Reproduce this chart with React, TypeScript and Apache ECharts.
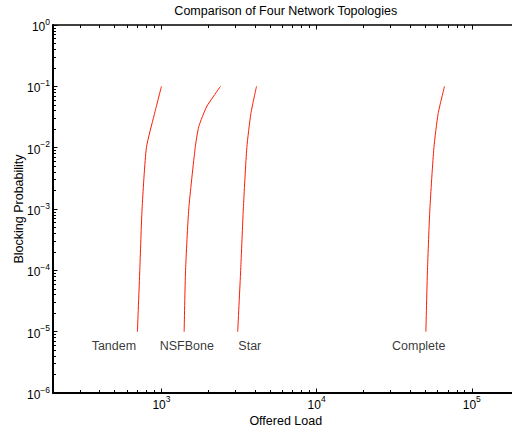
import React, { useEffect, useRef } from "react";
import * as echarts from "echarts";

const chartTitle = "Comparison of Four Network Topologies";
const xName = "Offered Load";
const yName = "Blocking Probability";

const topologies = ["Tandem", "NSFBone", "Star", "Complete"];

const tandemLoad = [700, 725, 750, 800, 900, 1000];
const tandemBlocking = [1e-5, 1e-4, 1e-3, 1e-2, 0.035, 0.1];

const nsfLoad = [1400, 1430, 1500, 1650, 1740, 1950, 2150, 2400];
const nsfBlocking = [1e-5, 1e-4, 1e-3, 1e-2, 0.022, 0.046, 0.067, 0.1];

const starLoad = [3100, 3240, 3370, 3550, 3770, 4100];
const starBlocking = [1e-5, 1e-4, 1e-3, 1e-2, 0.036, 0.1];

const completeLoad = [50600, 51800, 53700, 57000, 60700, 66700];
const completeBlocking = [1e-5, 1e-4, 1e-3, 1e-2, 0.036, 0.1];

const labelLoad = [355, 975, 3130, 30600];
const labelBlocking = [5.8e-6, 5.8e-6, 5.8e-6, 5.8e-6];

const xMin = 200;
const xMax = 200000;
const yMin = 1e-6;
const yMax = 1;

const mantissas = [2, 3, 4, 5, 6, 7, 8, 9];
const xDecades = [100, 1000, 10000, 100000];
const yDecades = [1e-6, 1e-5, 1e-4, 1e-3, 1e-2, 1e-1];

const FONT = "Liberation Sans";

function minorTicks(decades: number[], lo: number, hi: number) {
  const out: number[] = [];
  decades.forEach((d) => mantissas.forEach((m) => {
    const v = d * m;
    if (v > lo * 1.0001 && v < hi * 0.9999) out.push(v);
  }));
  return out;
}

function powLabel(v: number) {
  const e = Math.round(Math.log10(v));
  if (Math.abs(Math.log10(v) - e) > 1e-6) return "";
  const es = e < 0 ? "\u2212" + Math.abs(e) : String(e);
  return "{b|10}{s|" + es + "}";
}

const rich = {
  b: { fontSize: 12, lineHeight: 12, padding: [4, 0, 0, 0], fontFamily: FONT, color: "#000" },
  s: { fontSize: 8.5, lineHeight: 9, padding: [0, 0, 7, 0], fontFamily: FONT, color: "#000" },
};

export default function App() {
  const ref = useRef<HTMLDivElement>(null);
  useEffect(() => {
    if (!ref.current) return;
    const chart = echarts.init(ref.current, undefined, { renderer: "svg" });
    const black = "#000";
    const lineSeries = [
      [tandemLoad, tandemBlocking],
      [nsfLoad, nsfBlocking],
      [starLoad, starBlocking],
      [completeLoad, completeBlocking],
    ].map(([xs, ys], i) => ({
      type: "line",
      name: topologies[i],
      xAxisIndex: 0,
      yAxisIndex: 0,
      showSymbol: false,
      symbol: "none",
      smooth: 0.2,
      lineStyle: { color: "#ff1a00", width: 1 },
      data: xs.map((x, j) => [x, ys[j]]),
      z: 3,
    }));
    const xCommon = {
      type: "log",
      logBase: 10,
      min: xMin,
      max: xMax,
      splitLine: { show: false },
      gridIndex: 0,
    };
    const yCommon = {
      type: "log",
      logBase: 10,
      min: yMin,
      max: yMax,
      splitLine: { show: false },
      gridIndex: 0,
    };
    const xMinor = minorTicks(xDecades, xMin, xMax);
    const yMinor = minorTicks(yDecades, yMin, yMax);
    chart.setOption({
      animation: false,
      backgroundColor: "#fff",
      grid: { left: 53, top: 25, bottom: 39, right: -6.5, containLabel: false, outerBoundsMode: "none" },
      xAxis: [
        {
          ...xCommon,
          position: "bottom",
          axisLine: { onZero: false, lineStyle: { color: black, width: 2 } },
          axisTick: { inside: true, length: 4.5, lineStyle: { color: black, width: 1 } },
          axisLabel: { formatter: powLabel, rich, margin: 3.5, showMinLabel: true, showMaxLabel: true },
          name: xName,
          nameLocation: "middle",
          nameGap: 21,
          nameMoveOverlap: false,
          nameTextStyle: { fontSize: 12.5, fontFamily: FONT, color: black },
        },
        {
          ...xCommon,
          position: "bottom",
          axisLine: { show: false, onZero: false },
          axisTick: { inside: true, length: 3, customValues: xMinor, lineStyle: { color: black, width: 1 } },
          axisLabel: { show: false },
        },
        {
          ...xCommon,
          position: "top",
          axisLine: { onZero: false, lineStyle: { color: black, width: 1.5 } },
          axisTick: { inside: true, length: 4.5, lineStyle: { color: black, width: 1 } },
          axisLabel: { show: false },
          name: chartTitle,
          nameLocation: "middle",
          nameGap: 8,
          nameMoveOverlap: false,
          nameTextStyle: { fontSize: 12.5, fontFamily: FONT, color: black },
        },
        {
          ...xCommon,
          position: "top",
          axisLine: { show: false, onZero: false },
          axisTick: { inside: true, length: 3, customValues: xMinor, lineStyle: { color: black, width: 1 } },
          axisLabel: { show: false },
        },
      ],
      yAxis: [
        {
          ...yCommon,
          position: "left",
          axisLine: { onZero: false, lineStyle: { color: black, width: 2 } },
          axisTick: { inside: true, length: 4.5, lineStyle: { color: black, width: 1 } },
          axisLabel: { formatter: powLabel, rich, margin: 3, showMinLabel: true, showMaxLabel: true },
          name: yName,
          nameLocation: "middle",
          nameGap: 28,
          nameRotate: 90,
          nameMoveOverlap: false,
          nameTextStyle: { fontSize: 12.5, fontFamily: FONT, color: black },
        },
        {
          ...yCommon,
          position: "left",
          axisLine: { show: false, onZero: false },
          axisTick: { inside: true, length: 3, customValues: yMinor, lineStyle: { color: black, width: 1 } },
          axisLabel: { show: false },
        },
      ],
      series: [
        ...lineSeries,
        {
          type: "scatter",
          xAxisIndex: 0,
          yAxisIndex: 0,
          symbolSize: 0,
          silent: true,
          data: labelLoad.map((x, i) => ({ value: [x, labelBlocking[i]], name: topologies[i] })),
          label: {
            show: true,
            position: "right",
            distance: 0,
            formatter: (p: any) => p.name,
            fontSize: 12.5,
            fontFamily: FONT,
            color: black,
          },
        },
      ],
    });
    return () => chart.dispose();
  }, []);
  return <div ref={ref} style={{ width: 512, height: 432, position: "absolute", left: 0, top: 0 }} />;
}
